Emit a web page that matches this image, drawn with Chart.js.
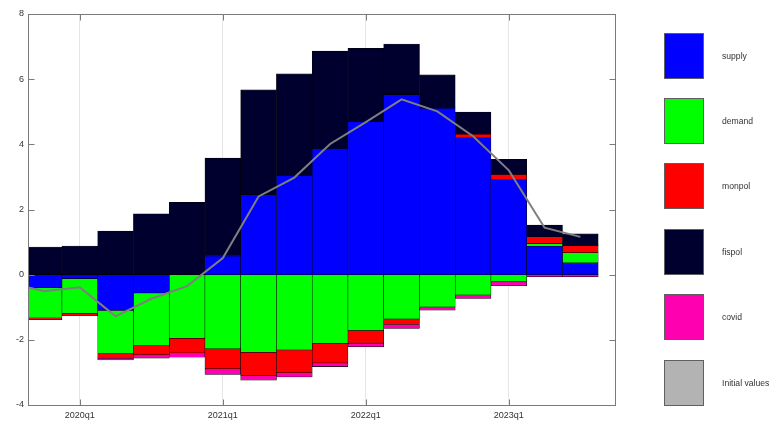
<!DOCTYPE html>
<html>
<head>
<meta charset="utf-8">
<script src="https://cdn.jsdelivr.net/npm/chart.js@4/dist/chart.umd.min.js"></script>
<style>
  html, body { margin: 0; padding: 0; background: #fff; }
  canvas { display: block; }
</style>
</head>
<body>
<canvas id="chart" width="771" height="421"></canvas>
<script>
// Quarters of the decomposition (2019q3 only anchors the start of the line)
const quarters = ['2019q3', '2019q4',
  '2020q1', '2020q2', '2020q3', '2020q4',
  '2021q1', '2021q2', '2021q3', '2021q4',
  '2022q1', '2022q2', '2022q3', '2022q4',
  '2023q1', '2023q2', '2023q3'];

// Contributions by shock
const supply = [null, -0.40, -0.12, -1.10, -0.56, 0.00, 0.57, 2.45, 3.04, 3.87, 4.69, 5.52, 5.11, 4.21, 2.91, 0.87, 0.36];
const demand = [null, -0.93, -1.07, -1.32, -1.62, -1.95, -2.27, -2.38, -2.31, -2.11, -1.71, -1.36, -0.99, -0.62, -0.22, 0.08, 0.31];
const monpol = [null, -0.04, -0.06, -0.14, -0.28, -0.45, -0.62, -0.71, -0.70, -0.60, -0.39, -0.17, 0.00, 0.10, 0.16, 0.21, 0.22];
const fispol = [null, 0.85, 0.88, 1.34, 1.87, 2.22, 3.01, 3.22, 3.12, 2.99, 2.26, 1.56, 1.02, 0.68, 0.47, 0.36, 0.36];
const covid  = [null, -0.01, -0.01, -0.06, -0.10, -0.13, -0.17, -0.15, -0.13, -0.11, -0.11, -0.12, -0.10, -0.11, -0.12, -0.06, -0.06];

// Reference path
const initialValues = [-0.24, -0.51, -0.39, -1.28, -0.74, -0.35, 0.51, 2.40, 2.98, 4.01, 4.68, 5.38, 5.01, 4.25, 3.20, 1.44, 1.16];

// Labelled quarters on the time axis
const tickQuarters = ['2020q1', '2021q1', '2022q1', '2023q1'];
const yTicks = [-4, -2, 0, 2, 4, 6, 8];

const seriesNames  = ['supply', 'demand', 'monpol', 'fispol', 'covid'];
const seriesValues = [supply, demand, monpol, fispol, covid];
const seriesColors = ['#0000ff', '#00ff00', '#ff0000', '#00002e', '#ff00b0'];
const lineName  = 'Initial values';
const lineColor = '#7f7f7f';
const lineLegendColor = '#b3b3b3';

const FONT = '"Liberation Sans", Arial, sans-serif';
const AXIS_COLOR = '#7a7a7a';
const TEXT_COLOR = '#333333';

function toPoints(arr) {
  const pts = [];
  arr.forEach((v, i) => { if (v !== null) pts.push({ x: i, y: v }); });
  return pts;
}

const barDatasets = seriesNames.map((name, k) => ({
  type: 'bar',
  label: name,
  data: toPoints(seriesValues[k]),
  backgroundColor: seriesColors[k],
  borderColor: '#000000',
  borderWidth: 0.55,
  borderSkipped: false,
  barPercentage: 1,
  categoryPercentage: 1,
  stack: 'shocks',
  clip: 0,
  order: 1
}));

const lineDataset = {
  type: 'line',
  label: lineName,
  data: toPoints(initialValues),
  borderColor: lineColor,
  borderWidth: 2,
  pointRadius: 0,
  tension: 0,
  fill: false,
  stack: 'line',
  clip: 0,
  order: 0
};

// Box around the plot with inward tick marks on all four sides
const axesBox = {
  id: 'axesBox',
  afterDatasetsDraw(chart) {
    const { ctx, chartArea: a, scales } = chart;
    const L = Math.round(a.left) + 0.5, R = Math.round(a.right) + 0.5;
    const T = Math.round(a.top) + 0.5, B = Math.round(a.bottom) + 0.5;
    const len = 6;
    ctx.save();
    ctx.strokeStyle = AXIS_COLOR;
    ctx.lineWidth = 1;
    ctx.strokeRect(L, T, R - L, B - T);
    ctx.beginPath();
    scales.y.ticks.forEach(t => {
      const py = Math.round(scales.y.getPixelForValue(t.value)) + 0.5;
      ctx.moveTo(L, py); ctx.lineTo(L + len, py);
      ctx.moveTo(R, py); ctx.lineTo(R - len, py);
    });
    scales.x.ticks.forEach(t => {
      const px = Math.round(scales.x.getPixelForValue(t.value)) + 0.5;
      ctx.moveTo(px, B); ctx.lineTo(px, B - len);
      ctx.moveTo(px, T); ctx.lineTo(px, T + len);
    });
    ctx.stroke();
    ctx.restore();
  }
};

// Legend column to the right of the plot
const sideLegend = {
  id: 'sideLegend',
  afterDraw(chart) {
    const ctx = chart.ctx;
    const items = seriesNames.map((n, k) => ({ name: n, color: seriesColors[k] }));
    items.push({ name: lineName, color: lineLegendColor });
    const x0 = 664, y0 = 32.5, w = 40, h = 46, step = 65.4;
    ctx.save();
    ctx.font = '8.6px ' + FONT;
    ctx.textBaseline = 'middle';
    ctx.textAlign = 'left';
    items.forEach((it, i) => {
      const y = Math.round(y0 + i * step);
      ctx.fillStyle = it.color;
      ctx.fillRect(x0, y, w, h);
      ctx.strokeStyle = '#5f5f5f';
      ctx.lineWidth = 1;
      ctx.strokeRect(x0 + 0.5, y + 0.5, w - 1, h - 1);
      ctx.fillStyle = TEXT_COLOR;
      ctx.fillText(it.name, 722, y + h / 2 + 1);
    });
    ctx.restore();
  }
};

new Chart(document.getElementById('chart'), {
  type: 'bar',
  data: { datasets: [lineDataset, ...barDatasets] },
  options: {
    responsive: false,
    animation: false,
    devicePixelRatio: 1,
    layout: { padding: { left: 0, top: 14, right: 156, bottom: 0 } },
    plugins: { legend: { display: false }, tooltip: { enabled: false } },
    scales: {
      x: {
        type: 'linear',
        stacked: true,
        offset: false,
        min: 0.55,
        max: 16.97,
        grid: { display: true, color: '#e6e6e6', lineWidth: 1, drawTicks: false, offset: false },
        border: { display: false },
        afterBuildTicks(scale) {
          scale.ticks = tickQuarters.map(q => ({ value: quarters.indexOf(q) }));
        },
        afterFit(scale) { scale.height = 16; },
        ticks: {
          autoSkip: false,
          maxRotation: 0,
          padding: 5,
          color: TEXT_COLOR,
          font: { family: FONT, size: 9 },
          callback: v => quarters[v]
        }
      },
      y: {
        type: 'linear',
        stacked: true,
        min: -4,
        max: 8,
        grid: { display: false, drawTicks: false },
        border: { display: false },
        afterBuildTicks(scale) {
          scale.ticks = yTicks.map(v => ({ value: v }));
        },
        afterFit(scale) { scale.width = 28; },
        ticks: {
          padding: 4,
          color: TEXT_COLOR,
          font: { family: FONT, size: 9 },
          callback: v => String(v)
        }
      }
    }
  },
  plugins: [axesBox, sideLegend]
});
</script>
</body>
</html>
